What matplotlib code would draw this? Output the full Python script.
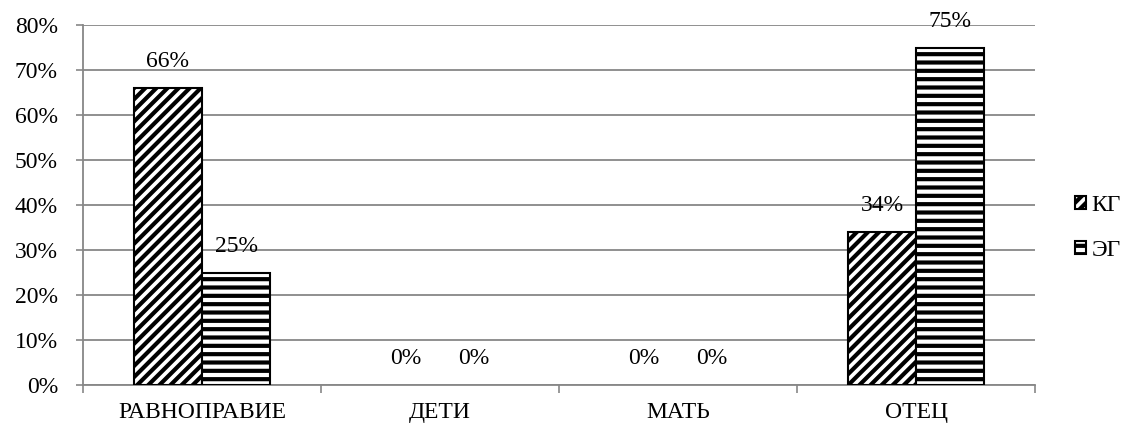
import matplotlib
matplotlib.use("Agg")
import matplotlib.pyplot as plt
import numpy as np
from matplotlib.ticker import PercentFormatter, FixedLocator

categories = ["РАВНОПРАВИЕ", "ДЕТИ", "МАТЬ", "ОТЕЦ"]
series_names = ["КГ", "ЭГ"]
kg_values = [66, 0, 0, 34]
eg_values = [25, 0, 0, 75]
y_ticks = [0, 10, 20, 30, 40, 50, 60, 70, 80]

plt.rcParams['font.family'] = ['Liberation Serif', 'DejaVu Serif']
plt.rcParams['hatch.linewidth'] = 3.0
plt.rcParams['hatch.color'] = 'black'

FS = 17
GRID = '#878787'

fig = plt.figure(figsize=(11.31, 4.30), dpi=100)
ax = fig.add_axes([83/1131, 45/430, (1035-83)/1131, (385-25)/430])

x = np.arange(len(categories))
w = 0.286
b1 = ax.bar(x - w/2, kg_values, w, color='white', edgecolor='black', linewidth=1.5,
            hatch='///', label=series_names[0], zorder=3)
b2 = ax.bar(x + w/2, eg_values, w, color='white', edgecolor='black', linewidth=1.5,
            hatch='--', label=series_names[1], zorder=3)

for bars, vals in ((b1, kg_values), (b2, eg_values)):
    for r, v in zip(bars, vals):
        if v == 0:
            r.set_linewidth(0)
        ax.annotate(f"{v}%", (r.get_x() + r.get_width()/2, v), xytext=(0, 19),
                    textcoords='offset points', ha='center', va='center', fontsize=FS)

ax.set_xlim(-0.5, len(categories) - 0.5)
ax.set_ylim(0, 80)
ax.set_yticks(y_ticks)
ax.yaxis.set_major_formatter(PercentFormatter(decimals=0))
ax.set_xticks(x)
ax.set_xticklabels(categories)
ax.xaxis.set_minor_locator(FixedLocator(np.arange(-0.5, len(categories), 1)))
ax.tick_params(axis='x', which='major', length=0, labelsize=FS, pad=12)
ax.tick_params(axis='x', which='minor', length=6, color=GRID, width=1.2)
ax.tick_params(axis='y', length=5, color=GRID, width=1.2, labelsize=FS, pad=13)
ax.grid(axis='y', color=GRID, linewidth=1.3, zorder=0)
for s in ['top', 'right']:
    ax.spines[s].set_visible(False)
for s in ['left', 'bottom']:
    ax.spines[s].set_color(GRID)
    ax.spines[s].set_linewidth(1.3)

leg = fig.legend(handles=[b1, b2], loc='center left', bbox_to_anchor=(1054/1131, 1 - 228/430),
                 frameon=False, fontsize=FS, handlelength=0.45, handleheight=0.45,
                 handletextpad=0.25, labelspacing=1.0)

fig.savefig("out.png", dpi=100)
